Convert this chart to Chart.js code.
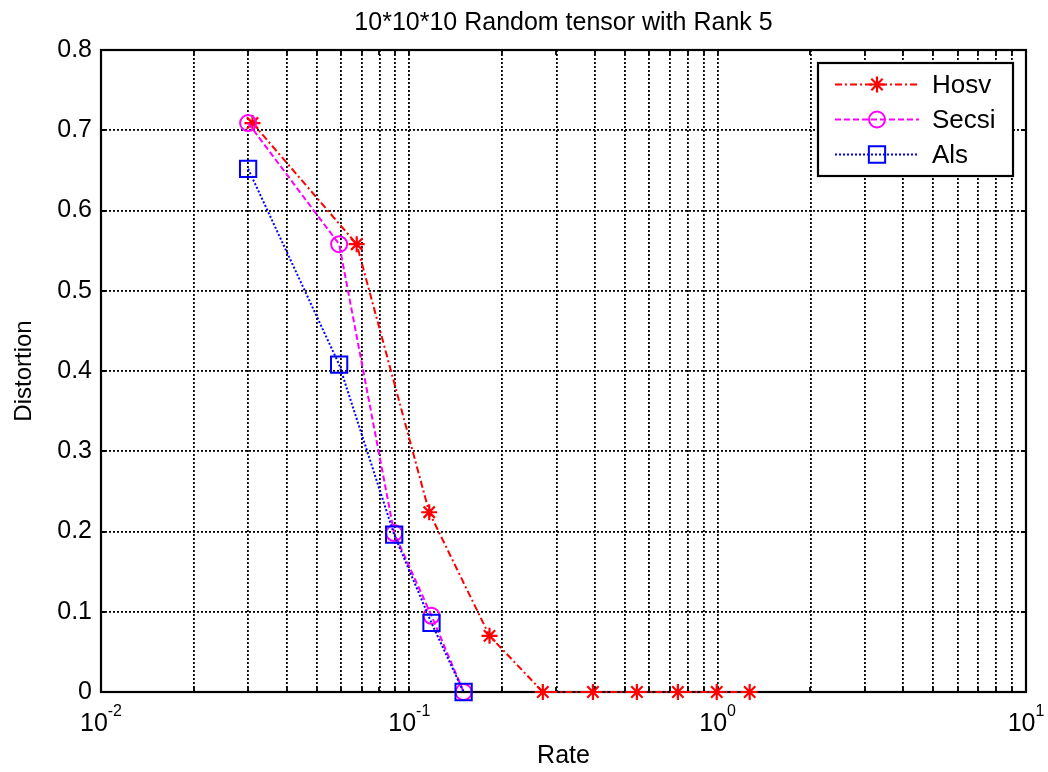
<!DOCTYPE html>
<html>
<head>
<meta charset="utf-8">
<title>Random tensor distortion</title>
<script src="https://cdn.jsdelivr.net/npm/chart.js@4/dist/chart.umd.min.js"></script>
<style>
  html, body { margin: 0; padding: 0; background: #fff; }
</style>
</head>
<body>
<canvas id="distortionChart" width="1048" height="772"></canvas>
<script>
// rate / distortion pairs per decomposition method
var hosvRate = [0.031, 0.0675, 0.116, 0.182, 0.271, 0.394, 0.547, 0.743, 0.993, 1.27];
var hosvDistortion = [0.709, 0.558, 0.224, 0.07, 0, 0, 0, 0, 0, 0];

var secsiRate = [0.03, 0.0592, 0.0893, 0.118, 0.15];
var secsiDistortion = [0.709, 0.558, 0.198, 0.095, 0];

var alsRate = [0.03, 0.0592, 0.0893, 0.118, 0.15];
var alsDistortion = [0.652, 0.408, 0.196, 0.086, 0];

// x axis decades and their exponent labels
var rateDecades = [0.01, 0.1, 1, 10];
var decadeExponents = ['-2', '-1', '0', '1'];

var FONT = "'Liberation Sans', Arial, Helvetica, sans-serif";

function toPoints(xs, ys) {
    return xs.map(function (x, i) { return { x: x, y: ys[i] }; });
}

// 1..9 x 10^e grid positions for the log axis
function logGridValues() {
    var vals = [];
    for (var d = 0; d < rateDecades.length - 1; d++) {
        for (var m = 1; m < 10; m++) {
            vals.push(+(m * rateDecades[d]).toPrecision(3));
        }
    }
    vals.push(rateDecades[rateDecades.length - 1]);
    return vals;
}

// axes frame with short inward ticks, drawn under the data
var axesFrame = {
    id: 'axesFrame',
    beforeDatasetsDraw: function (chart) {
        var ctx = chart.ctx, a = chart.chartArea;
        var xs = chart.scales.x, ys = chart.scales.y;
        ctx.save();
        ctx.strokeStyle = '#000';
        ctx.lineWidth = 1.8;
        ctx.beginPath();
        xs.ticks.forEach(function (t) {
            var px = Math.round(xs.getPixelForValue(t.value));
            ctx.moveTo(px, a.bottom); ctx.lineTo(px, a.bottom - 5);
            ctx.moveTo(px, a.top); ctx.lineTo(px, a.top + 5);
        });
        ys.ticks.forEach(function (t) {
            var py = Math.round(ys.getPixelForValue(t.value));
            ctx.moveTo(a.left, py); ctx.lineTo(a.left + 5, py);
            ctx.moveTo(a.right, py); ctx.lineTo(a.right - 5, py);
        });
        ctx.stroke();
        ctx.lineWidth = 2.2;
        ctx.strokeRect(a.left, a.top, a.right - a.left, a.bottom - a.top);
        ctx.restore();
    }
};

// 10^n labels under the log axis
var decadeLabels = {
    id: 'decadeLabels',
    afterDraw: function (chart) {
        var ctx = chart.ctx, xs = chart.scales.x, a = chart.chartArea;
        ctx.save();
        ctx.fillStyle = '#000';
        ctx.textAlign = 'left';
        ctx.textBaseline = 'alphabetic';
        rateDecades.forEach(function (v, i) {
            ctx.font = '25px ' + FONT;
            var wb = ctx.measureText('10').width;
            ctx.font = '16px ' + FONT;
            var ws = ctx.measureText(decadeExponents[i]).width;
            var left = xs.getPixelForValue(v) - (wb + ws) / 2;
            ctx.font = '25px ' + FONT;
            ctx.fillText('10', left, a.bottom + 39);
            ctx.font = '16px ' + FONT;
            ctx.fillText(decadeExponents[i], left + wb, a.bottom + 24);
        });
        ctx.restore();
    }
};

// boxed legend in the upper right corner
var boxLegend = {
    id: 'boxLegend',
    afterDraw: function (chart) {
        var ctx = chart.ctx, a = chart.chartArea;
        var left = a.right - 208, top = a.top + 13, w = 195, h = 113;
        ctx.save();
        ctx.fillStyle = '#fff';
        ctx.fillRect(left, top, w, h);
        ctx.strokeStyle = '#000';
        ctx.lineWidth = 2.2;
        ctx.strokeRect(left, top, w, h);
        chart.data.datasets.forEach(function (ds, i) {
            var y = top + 21.5 + i * 35;
            ctx.strokeStyle = ds.borderColor;
            ctx.lineWidth = ds.borderWidth;
            ctx.setLineDash(ds.borderDash);
            ctx.beginPath();
            ctx.moveTo(left + 17, y);
            ctx.lineTo(left + 101, y);
            ctx.stroke();
            ctx.setLineDash([]);
            ctx.lineWidth = ds.pointBorderWidth;
            ctx.fillStyle = 'rgba(0,0,0,0)';
            Chart.helpers.drawPoint(ctx, {
                pointStyle: ds.pointStyle,
                radius: ds.pointRadius,
                rotation: 0,
                borderWidth: ds.pointBorderWidth
            }, left + 59, y);
            ctx.fillStyle = '#000';
            ctx.font = '26px ' + FONT;
            ctx.textAlign = 'left';
            ctx.textBaseline = 'middle';
            ctx.fillText(ds.label, left + 114, y + 1);
        });
        ctx.restore();
    }
};

var ctx = document.getElementById('distortionChart').getContext('2d');
var chart = new Chart(ctx, {
    type: 'line',
    data: {
        datasets: [{
            label: 'Hosv',
            data: toPoints(hosvRate, hosvDistortion),
            borderColor: '#ff0000',
            borderWidth: 2,
            borderDash: [7, 3, 2, 3],
            pointStyle: 'star',
            pointRadius: 8,
            pointBorderWidth: 2.2,
            pointBorderColor: '#ff0000',
            pointBackgroundColor: 'rgba(0,0,0,0)',
            clip: false,
            order: 3
        }, {
            label: 'Secsi',
            data: toPoints(secsiRate, secsiDistortion),
            borderColor: '#ff00ff',
            borderWidth: 2,
            borderDash: [6, 3],
            pointStyle: 'circle',
            pointRadius: 8,
            pointBorderWidth: 2,
            pointBorderColor: '#ff00ff',
            pointBackgroundColor: 'rgba(0,0,0,0)',
            clip: false,
            order: 2
        }, {
            label: 'Als',
            data: toPoints(alsRate, alsDistortion),
            borderColor: '#0000ff',
            borderWidth: 2,
            borderDash: [2, 2],
            pointStyle: 'rect',
            pointRadius: 11.5,
            pointBorderWidth: 2,
            pointBorderColor: '#0000ff',
            pointBackgroundColor: 'rgba(0,0,0,0)',
            clip: false,
            order: 1
        }]
    },
    options: {
        responsive: false,
        animation: false,
        layout: { padding: { left: 0, right: 22, top: 0, bottom: 0 } },
        plugins: {
            legend: { display: false },
            tooltip: { enabled: false },
            title: {
                display: true,
                text: '10*10*10 Random tensor with Rank 5',
                color: '#000',
                fullSize: false,
                font: { family: FONT, size: 25, weight: 'normal' },
                padding: { top: 8, bottom: 12 }
            }
        },
        scales: {
            x: {
                type: 'logarithmic',
                min: 0.01,
                max: 10,
                afterBuildTicks: function (scale) {
                    scale.ticks = logGridValues().map(function (v) { return { value: v }; });
                },
                afterFit: function (scale) { scale.height = 80; },
                ticks: { display: false },
                grid: { color: '#000', lineWidth: 1.8, drawTicks: false },
                border: { display: false, dash: [2, 2] },
                title: {
                    display: true,
                    text: 'Rate',
                    color: '#000',
                    font: { family: FONT, size: 25 },
                    padding: { top: 0, bottom: 1 }
                }
            },
            y: {
                min: 0,
                max: 0.8,
                afterFit: function (scale) { scale.width = 101; },
                ticks: {
                    stepSize: 0.1,
                    color: '#000',
                    padding: 9,
                    font: { family: FONT, size: 25 }
                },
                grid: { color: '#000', lineWidth: 1.8, drawTicks: false },
                border: { display: false, dash: [2, 2] },
                title: {
                    display: true,
                    text: 'Distortion',
                    color: '#000',
                    font: { family: FONT, size: 24 },
                    padding: { top: 10, bottom: 0 }
                }
            }
        }
    },
    plugins: [axesFrame, decadeLabels, boxLegend]
});
</script>
</body>
</html>
